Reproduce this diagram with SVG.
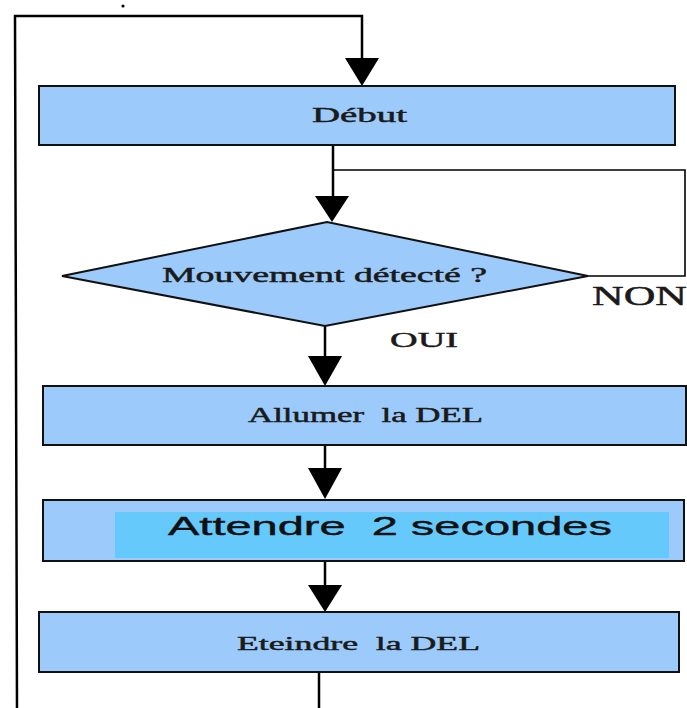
<svg xmlns="http://www.w3.org/2000/svg" width="687" height="708" viewBox="0 0 687 708">
  <style>
    .box { fill: #9ccbfb; stroke: #111; stroke-width: 2; }
    .inner { fill: #66c9fc; stroke: none; }
    .wire { fill: none; stroke: #000; stroke-width: 2.5; }
    .thin { fill: none; stroke: #000; stroke-width: 1.6; }
    .lbl { font-family: "Liberation Serif", "Times New Roman", serif; fill: #1a1a1a; stroke: #1a1a1a; stroke-width: 0.45; white-space: pre; }
    .sans { font-family: "Liberation Sans", Arial, sans-serif; fill: #111; stroke: #111; stroke-width: 0.4; white-space: pre; }
  </style>

  <rect width="687" height="708" fill="#fff"/>
  <circle cx="123" cy="6" r="1.6" fill="#000"/>

  <g id="connectors">
    <!-- loop back from the end to the start -->
    <path class="wire" d="M319,672 L319,708"/>
    <path class="wire" d="M17,708 L15,16 L362,16 L362,58"/>
    <path d="M345,58 L379,58 L362,86 Z" fill="#000"/>
    <!-- start to decision -->
    <path class="wire" d="M333,145 L333,196"/>
    <path d="M315,196 L349,196 L332,222 Z" fill="#000"/>
    <!-- NON loop -->
    <path class="thin" d="M333,170 L685,170 L685,276 L588,276"/>
    <!-- OUI branch -->
    <path class="wire" d="M325,326 L325,356"/>
    <path d="M308,356 L342,356 L325,386 Z" fill="#000"/>
    <!-- Allumer to Attendre -->
    <path class="wire" d="M325,446 L325,468"/>
    <path d="M308,468 L342,468 L325,499 Z" fill="#000"/>
    <!-- Attendre to Eteindre -->
    <path class="wire" d="M325,562 L325,585"/>
    <path d="M308,585 L342,585 L325,612 Z" fill="#000"/>
  </g>

  <g id="debut">
    <rect class="box" x="39" y="86" width="636" height="59"/>
    <text class="lbl" x="312" y="122" font-size="20" textLength="95" lengthAdjust="spacingAndGlyphs">Début</text>
  </g>

  <g id="mouvement">
    <polygon class="box" points="62,276 327,222 588,276 325,326" stroke-width="1.6"/>
    <text class="lbl" x="162" y="282" font-size="20" textLength="325" lengthAdjust="spacingAndGlyphs">Mouvement détecté ?</text>
  </g>

  <text class="lbl" x="592" y="305" font-size="27" textLength="95" lengthAdjust="spacingAndGlyphs">NON</text>
  <text class="lbl" x="390" y="347" font-size="21" textLength="68" lengthAdjust="spacingAndGlyphs">OUI</text>

  <g id="allumer">
    <rect class="box" x="43" y="386" width="643" height="59"/>
    <text class="lbl" x="248" y="422" font-size="20" textLength="235" lengthAdjust="spacingAndGlyphs">Allumer  la DEL</text>
  </g>

  <g id="attendre">
    <rect class="box" x="43" y="500" width="641" height="61"/>
    <rect class="inner" x="115" y="512" width="554" height="46"/>
    <text class="sans" x="168" y="535" font-size="25" textLength="444" lengthAdjust="spacingAndGlyphs">Attendre  2 secondes</text>
  </g>

  <g id="eteindre">
    <rect class="box" x="39" y="612" width="640" height="60"/>
    <text class="lbl" x="237" y="650" font-size="19" textLength="243" lengthAdjust="spacingAndGlyphs">Eteindre  la DEL</text>
  </g>
</svg>
